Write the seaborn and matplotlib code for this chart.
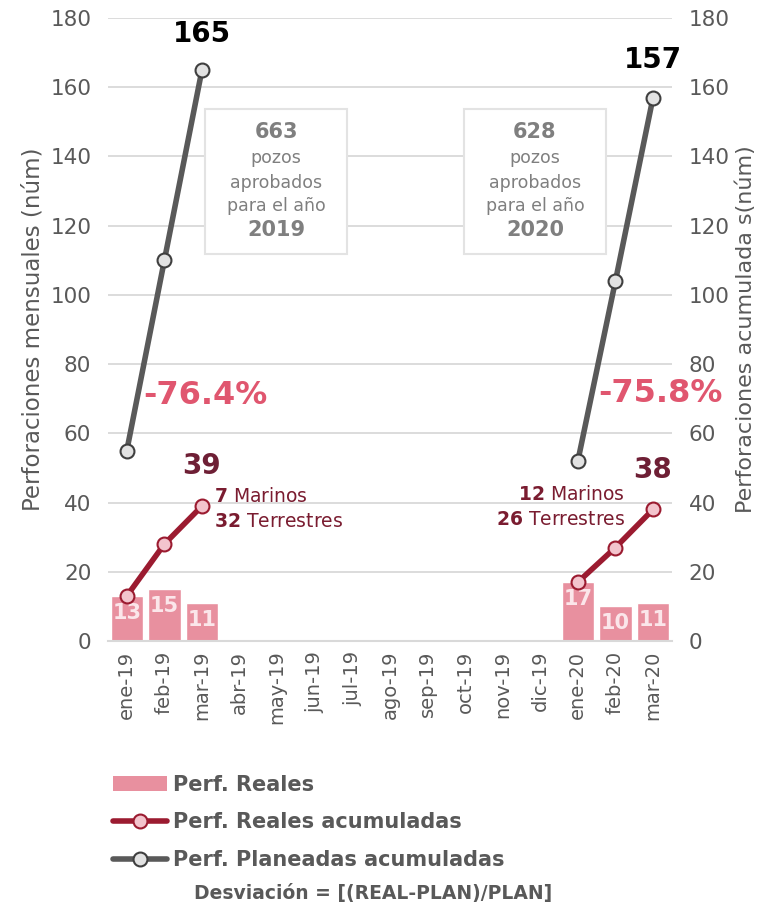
import numpy as np
import pandas as pd
import matplotlib
matplotlib.use("Agg")
import matplotlib.pyplot as plt
from matplotlib.patches import Patch, Rectangle
from matplotlib.lines import Line2D
import seaborn as sns

# --- data -------------------------------------------------------------
meses = ["ene-19", "feb-19", "mar-19", "abr-19", "may-19", "jun-19", "jul-19",
         "ago-19", "sep-19", "oct-19", "nov-19", "dic-19", "ene-20", "feb-20", "mar-20"]
reales = [13, 15, 11, None, None, None, None, None, None, None, None, None, 17, 10, 11]

meses_2019 = ["ene-19", "feb-19", "mar-19"]
reales_acum_2019 = [13, 28, 39]
plan_acum_2019 = [55, 110, 165]

meses_2020 = ["ene-20", "feb-20", "mar-20"]
reales_acum_2020 = [17, 27, 38]
plan_acum_2020 = [52, 104, 157]

desviacion = ["-76.4%", "-75.8%"]
aprobados = [663, 628]
anios = ["2019", "2020"]
marinos = [7, 12]
terrestres = [32, 26]

# --- style ------------------------------------------------------------
sns.set_theme(style="white")
FUENTE = "DejaVu Sans"
plt.rcParams["font.family"] = [FUENTE]
plt.rcParams["mathtext.fontset"] = "dejavusans"

GRIS = "#595959"
ROSA = "#E8909F"
GUINDA = "#9B1B30"
GUINDA_OSC = "#6E1F35"
ROJO_TXT = "#E0566F"

fig = plt.figure(figsize=(7.73, 9.10), dpi=100)
ax = fig.add_axes([0.1397, 0.2956, 0.7294, 0.6846])

df = pd.DataFrame({"mes": meses, "reales": reales})
pos = {m: i for i, m in enumerate(meses)}

sns.barplot(data=df.dropna(), x="mes", y="reales", order=meses, color=ROSA,
            saturation=1, width=0.86, ax=ax)

for i, v in enumerate(reales):
    if v is not None:
        ax.text(i, v - 2.0, f"{v}", ha="center", va="top", fontsize=15,
                fontweight="bold", color="#FBE6EA")

# cumulative lines
for ms, ra, pa in [(meses_2019, reales_acum_2019, plan_acum_2019),
                   (meses_2020, reales_acum_2020, plan_acum_2020)]:
    xs = [pos[m] for m in ms]
    sns.lineplot(x=xs, y=pa, ax=ax, color=GRIS, lw=4, marker="o", markersize=10,
                 markerfacecolor="#E2E2E2", markeredgecolor="#3F3F3F",
                 markeredgewidth=1.5, zorder=4)
    sns.lineplot(x=xs, y=ra, ax=ax, color=GUINDA, lw=4, marker="o", markersize=10,
                 markerfacecolor="#F3C4CD", markeredgecolor=GUINDA,
                 markeredgewidth=1.5, zorder=4)

# axes
ax.set_xlim(-0.5, len(meses) - 0.5)
ax.set_ylim(0, 180)
ax.set_yticks(np.arange(0, 181, 20))
ax.yaxis.grid(True, color="#D9D9D9", lw=1.3)
ax.set_axisbelow(True)
for s in ["top", "right", "left"]:
    ax.spines[s].set_visible(False)
ax.spines["bottom"].set_color("#D9D9D9")
ax.spines["bottom"].set_linewidth(1.5)
ax.set_xticks(range(len(meses)))
ax.set_xticklabels(meses, rotation=90, fontsize=14, color=GRIS)
ax.set_xticks(np.arange(-0.5, len(meses), 1), minor=True)
ax.tick_params(axis="x", which="major", length=0, pad=7)
ax.tick_params(axis="x", which="minor", length=7, width=1.5, color="#D9D9D9")
ax.tick_params(axis="y", length=0, labelsize=15.5, labelcolor=GRIS, pad=12)
ax.set_xlabel("")
ax.set_ylabel("Perforaciones mensuales (núm)", fontsize=16.5, color=GRIS, labelpad=4)

ax2 = ax.twinx()
ax2.set_ylim(0, 180)
ax2.set_yticks(np.arange(0, 181, 20))
ax2.tick_params(axis="y", length=0, labelsize=15.5, labelcolor=GRIS, pad=12)
for s in ["top", "right", "left", "bottom"]:
    ax2.spines[s].set_visible(False)
ax2.grid(False)
ax2.set_ylabel("Perforaciones acumulada s(núm)", fontsize=16, color=GRIS, labelpad=4)

# annotations
ax.text(2, 175.5, f"{plan_acum_2019[-1]}", ha="center", va="center", fontsize=20,
        fontweight="bold", color="black")
ax.text(14, 168, f"{plan_acum_2020[-1]}", ha="center", va="center", fontsize=20,
        fontweight="bold", color="black")

ax.text(0.45, 71, desviacion[0], ha="left", va="center", fontsize=23,
        fontweight="bold", color=ROJO_TXT)
ax.text(14.2, 71.5, desviacion[1], ha="center", va="center", fontsize=23,
        fontweight="bold", color=ROJO_TXT, clip_on=False)

ax.text(2, 50.5, f"{reales_acum_2019[-1]}", ha="center", va="center", fontsize=20,
        fontweight="bold", color=GUINDA_OSC)
ax.text(14, 49.3, f"{reales_acum_2020[-1]}", ha="center", va="center", fontsize=20,
        fontweight="bold", color=GUINDA_OSC)

TXT = "#7A1C30"
ax.text(2.32, 41.7, rf"$\mathbf{{{marinos[0]}}}$ Marinos", ha="left", va="center",
        fontsize=13.5, color=TXT)
ax.text(2.32, 34.4, rf"$\mathbf{{{terrestres[0]}}}$ Terrestres", ha="left", va="center",
        fontsize=13.5, color=TXT)
ax.text(13.25, 42.2, rf"$\mathbf{{{marinos[1]}}}$ Marinos", ha="right", va="center",
        fontsize=13.5, color=TXT)
ax.text(13.25, 35.0, rf"$\mathbf{{{terrestres[1]}}}$ Terrestres", ha="right", va="center",
        fontsize=13.5, color=TXT)

# approved-wells boxes
for cx, n, yr in [(3.97, aprobados[0], anios[0]), (10.86, aprobados[1], anios[1])]:
    ax.add_patch(Rectangle((cx - 1.9, 111.8), 3.8, 41.9, facecolor="white",
                           edgecolor="#E3E3E3", lw=1.5, zorder=3))
    ax.text(cx, 147, f"{n}", ha="center", va="center", fontsize=15,
            fontweight="bold", color="#7F7F7F", zorder=5)
    for yy, t in [(139.5, "pozos"), (132.3, "aprobados"), (125.8, "para el año")]:
        ax.text(cx, yy, t, ha="center", va="center", fontsize=12.5,
                color="#7F7F7F", zorder=5)
    ax.text(cx, 118.8, yr, ha="center", va="center", fontsize=15,
            fontweight="bold", color="#7F7F7F", zorder=5)

# legend
handles = [
    Patch(facecolor=ROSA, edgecolor="none"),
    Line2D([0], [0], color=GUINDA, lw=4, marker="o", markersize=10,
           markerfacecolor="#F3C4CD", markeredgecolor=GUINDA, markeredgewidth=1.5),
    Line2D([0], [0], color=GRIS, lw=4, marker="o", markersize=10,
           markerfacecolor="#E2E2E2", markeredgecolor="#3F3F3F", markeredgewidth=1.5),
]
labels = ["Perf. Reales", "Perf. Reales acumuladas", "Perf. Planeadas acumuladas"]
fig.legend(handles, labels, loc="upper left", bbox_to_anchor=(0.135, 0.158),
           frameon=False, handlelength=2.6, handletextpad=0.3, labelspacing=0.85,
           prop={"weight": "bold", "size": 15}, labelcolor=GRIS, borderaxespad=0)
fig.text(0.483, 0.018, "Desviación = [(REAL-PLAN)/PLAN]", ha="center", va="center",
         fontsize=13.5, fontweight="bold", color=GRIS)

fig.savefig("out.png", dpi=100, facecolor="white")
